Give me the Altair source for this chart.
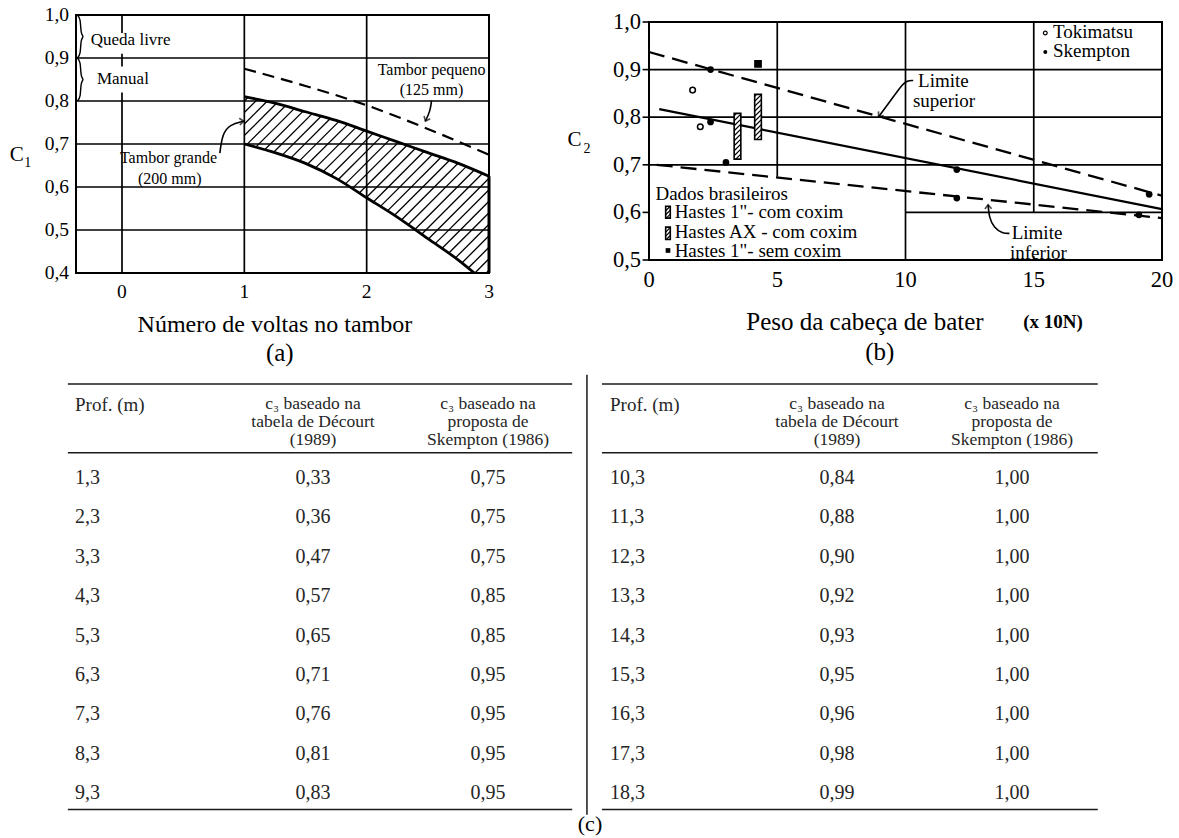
import altair as alt
import numpy as np
import pandas as pd

SERIF = "Liberation Serif"

# ============ (a) C1 against number of turns on the drum ============
big_turns = [1.0, 1.25, 1.5, 1.75, 2.0, 2.25, 2.5, 2.75, 3.0]
big_upper = [0.81, 0.795, 0.775, 0.755, 0.73, 0.705, 0.68, 0.655, 0.625]
low_turns = [1.0, 1.25, 1.5, 1.75, 2.0, 2.25, 2.5, 2.75, 2.88]
big_lower = [0.70, 0.68, 0.655, 0.62, 0.575, 0.53, 0.48, 0.43, 0.40]
small_turns = [1.0, 1.5, 2.0, 2.5, 3.0]
small_drum = [0.875, 0.835, 0.79, 0.735, 0.675]
a_xticks = [0, 1, 2, 3]
a_yticks = [0.4, 0.5, 0.6, 0.7, 0.8, 0.9, 1.0]

# ============ (b) C2 against hammer head weight ============
b_xticks = [0, 5, 10, 15, 20]
b_yticks = [0.5, 0.6, 0.7, 0.8, 0.9, 1.0]
sup_w, sup_c = [0.0, 20.0], [0.937, 0.635]
mid_w, mid_c = [0.4, 20.0], [0.817, 0.607]
inf_w, inf_c = [0.3, 20.0], [0.700, 0.588]
skempton_w = [2.4, 2.4, 3.0, 12.0, 12.0, 19.5, 19.1]
skempton_c = [0.900, 0.790, 0.705, 0.690, 0.630, 0.638, 0.595]
tokimatsu_w = [1.7, 2.0]
tokimatsu_c = [0.857, 0.780]
sem_coxim_w, sem_coxim_c = [4.25], [0.912]
com_coxim_w = [3.45, 4.25]
com_coxim_lo = [0.712, 0.753]
com_coxim_hi = [0.808, 0.848]

# ============ (c) C3 by depth ============
depth = [1.3, 2.3, 3.3, 4.3, 5.3, 6.3, 7.3, 8.3, 9.3,
         10.3, 11.3, 12.3, 13.3, 14.3, 15.3, 16.3, 17.3, 18.3]
c3_decourt = [0.33, 0.36, 0.47, 0.57, 0.65, 0.71, 0.76, 0.81, 0.83,
              0.84, 0.88, 0.90, 0.92, 0.93, 0.95, 0.96, 0.98, 0.99]
c3_skempton = [0.75, 0.75, 0.75, 0.85, 0.85, 0.95, 0.95, 0.95, 0.95,
               1.00, 1.00, 1.00, 1.00, 1.00, 1.00, 1.00, 1.00, 1.00]
headers = ["Prof. (m)",
           "c\u2083 baseado na\ntabela de Décourt\n(1989)",
           "c\u2083 baseado na\nproposta de\nSkempton (1986)"]

# ---------------- scales (each panel placed by its own pixel range) ----------------
A_X, A_Y = [76, 489], [273, 15]
B_X, B_Y = [649, 1162], [260, 22]
A_DOM_X, A_DOM_Y = [-0.376, 3.0], [0.4, 1.0]
B_DOM_X, B_DOM_Y = [0.0, 20.0], [0.5, 1.0]
XA = alt.Scale(domain=A_DOM_X, range=A_X, nice=False, zero=False)
YA = alt.Scale(domain=A_DOM_Y, range=A_Y, nice=False, zero=False)
XB = alt.Scale(domain=B_DOM_X, range=B_X, nice=False, zero=False)
YB = alt.Scale(domain=B_DOM_Y, range=B_Y, nice=False, zero=False)
XT = alt.Scale(domain=[0, 1, 2, 3, 4, 5], range=[75, 313, 488, 610, 837, 1012], nice=False, zero=False)
YT = alt.Scale(domain=[0, 8], range=[478, 793], nice=False, zero=False)

HEAD = "M-1,-0.8L0,0L-1,0.8"


def comma(v, nd):
    return f"{v:.{nd}f}".replace(".", ",")


def X(xs):
    return alt.X("x:Q", scale=xs, axis=None)


def Y(ys):
    return alt.Y("y:Q", scale=ys, axis=None)


def segs(rows, xs, ys, **mark):
    df = pd.DataFrame(rows, columns=["x", "y", "x2", "y2"])
    return alt.Chart(df).mark_rule(color="black", **mark).encode(
        x=X(xs), y=Y(ys), x2="x2:Q", y2="y2:Q")


def curve(xv, yv, xs, ys, **mark):
    df = pd.DataFrame({"x": xv, "y": yv, "k": range(len(xv))})
    return alt.Chart(df).mark_line(color="black", **mark).encode(
        x=X(xs), y=Y(ys), order="k:Q")


def texts(items, xs, ys, **mark):
    df = pd.DataFrame(items, columns=["t", "x", "y"])
    opts = dict(font=SERIF, color="black", baseline="middle")
    opts.update(mark)
    return alt.Chart(df).mark_text(**opts).encode(x=X(xs), y=Y(ys), text="t:N")


def arrow(pts, angle, xs, ys, width=1.6):
    df = pd.DataFrame(pts, columns=["x", "y"])
    df["k"] = range(len(df))
    shaft = alt.Chart(df).mark_line(color="black", strokeWidth=width, interpolate="basis").encode(
        x=X(xs), y=Y(ys), order="k:Q")
    tip = alt.Chart(df.tail(1)).mark_point(
        shape=HEAD, filled=False, color="black", strokeWidth=width, size=70, angle=angle
    ).encode(x=X(xs), y=Y(ys))
    return shaft + tip


def frame(xdom, ydom, xs, ys):
    df = pd.DataFrame({"x": [xdom[0]], "x2": [xdom[1]], "y": [ydom[0]], "y2": [ydom[1]]})
    return alt.Chart(df).mark_rect(filled=False, color="black", strokeWidth=2).encode(
        x=X(xs), x2="x2:Q", y=Y(ys), y2="y2:Q")


def tick_labels(xticks, yticks, xdom, ydom, xs, ys, size, xdy, ydx):
    xl = pd.DataFrame({"x": xticks, "y": ydom[0], "t": [str(v) for v in xticks]})
    yl = pd.DataFrame({"x": xdom[0], "y": yticks, "t": [comma(v, 1) for v in yticks]})
    bottom = alt.Chart(xl).mark_text(font=SERIF, fontSize=size, color="black", align="center",
                                     baseline="middle", dy=xdy).encode(x=X(xs), y=Y(ys), text="t:N")
    left = alt.Chart(yl).mark_text(font=SERIF, fontSize=size, color="black", align="right",
                                   baseline="middle", dx=ydx).encode(x=X(xs), y=Y(ys), text="t:N")
    return bottom + left


def brace(x0, top, bottom, w):
    mid = (top + bottom) / 2
    xv = [x0, x0 + w, x0 + w, x0 + 2 * w, x0 + w, x0 + w, x0]
    yv = [top, top - 0.008, mid + 0.006, mid, mid - 0.006, bottom + 0.008, bottom]
    return xv, yv


# ======================= panel (a) =======================
frame_a = frame(A_DOM_X, A_DOM_Y, XA, YA)
ticks_a = tick_labels(a_xticks, a_yticks, A_DOM_X, A_DOM_Y, XA, YA, 19.5, 19, -7)

grid_a = segs(
    [(A_DOM_X[0], g, A_DOM_X[1], g) for g in [0.5, 0.6, 0.7, 0.8, 0.9]]
    + [(1, 0.4, 1, 1.0), (2, 0.4, 2, 1.0),
       (0, 1.0, 0, 0.958), (0, 0.91, 0, 0.88), (0, 0.82, 0, 0.4)],
    XA, YA, strokeWidth=1.7)

# diagonal hatching of the large-drum band (lines at 45 degrees on screen)
px_x = (A_X[1] - A_X[0]) / (A_DOM_X[1] - A_DOM_X[0])
px_y = (A_Y[0] - A_Y[1]) / (A_DOM_Y[1] - A_DOM_Y[0])
slope = px_x / px_y
xg = np.linspace(1.0, 3.0, 4001)
up_g = np.interp(xg, big_turns, big_upper)
lo_g = np.maximum(np.interp(xg, low_turns, big_lower), 0.4)
hatch = []
for t in np.arange(-0.5, 3.0, 11.5 / px_x):
    yl = 0.4 + slope * (xg - t)
    idx = np.where((yl >= lo_g) & (yl <= up_g))[0]
    if len(idx) > 1:
        hatch.append((xg[idx[0]], yl[idx[0]], xg[idx[-1]], yl[idx[-1]]))
hatch_a = segs(hatch, XA, YA, strokeWidth=1.3)

band_a = (curve(big_turns, big_upper, XA, YA, strokeWidth=2.8, interpolate="monotone")
          + curve(low_turns, big_lower, XA, YA, strokeWidth=2.8, interpolate="monotone")
          + segs([(3.0, 0.4, 3.0, big_upper[-1])], XA, YA, strokeWidth=3))
small_a = curve(small_turns, small_drum, XA, YA, strokeWidth=2.2, strokeDash=[12, 7],
                interpolate="monotone")

bx1, by1 = brace(-0.366, 1.0, 0.9, 0.028)
bx2, by2 = brace(-0.366, 0.9, 0.8, 0.028)
braces_a = (curve(bx1, by1, XA, YA, strokeWidth=1.4, interpolate="basis")
            + curve(bx2, by2, XA, YA, strokeWidth=1.4, interpolate="basis"))

notes_a_left = texts([("Queda livre", -0.255, 0.942), ("Manual", -0.205, 0.852)],
                     XA, YA, align="left", fontSize=17)
notes_a_mid = texts([("Tambor grande", 0.38, 0.668), ("(200 mm)", 0.39, 0.618),
                     ("Tambor pequeno", 2.53, 0.872), ("(125 mm)", 2.53, 0.826)],
                    XA, YA, align="center", fontSize=16)
arrows_a = (arrow([(0.80, 0.679), (0.82, 0.723), (0.88, 0.745), (0.995, 0.753)], 355, XA, YA)
            + arrow([(2.53, 0.801), (2.52, 0.777), (2.48, 0.753)], 115, XA, YA))
label_a = (texts([("C", -0.86, 0.674)], XA, YA, align="center", fontSize=21)
           + texts([("1", -0.77, 0.656)], XA, YA, align="center", fontSize=14)
           + texts([("Número de voltas no tambor", 1.25, 0.279)], XA, YA, align="center", fontSize=24)
           + texts([("(a)", 1.29, 0.214)], XA, YA, align="center", fontSize=25))

panel_a = alt.layer(grid_a, hatch_a, band_a, small_a, braces_a, notes_a_left, notes_a_mid,
                    arrows_a, label_a, ticks_a, frame_a)

# ======================= panel (b) =======================
frame_b = frame(B_DOM_X, B_DOM_Y, XB, YB)
ticks_b = tick_labels(b_xticks, b_yticks, B_DOM_X, B_DOM_Y, XB, YB, 22.5, 20, -8)
tickmarks_b = segs([(-0.25, v, 0.0, v) for v in b_yticks], XB, YB, strokeWidth=1.6)

grid_b = segs(
    [(0, g, 20, g) for g in [0.7, 0.8, 0.9]]
    + [(10, 0.6, 20, 0.6), (5, 0.675, 5, 1.0), (10, 0.5, 10, 1.0),
       (15, 0.6, 15, 1.0), (15, 0.5, 15, 0.508)],
    XB, YB, strokeWidth=1.7)

lines_b = (curve(sup_w, sup_c, XB, YB, strokeWidth=2.3, strokeDash=[16, 8])
           + curve(mid_w, mid_c, XB, YB, strokeWidth=2.2)
           + curve(inf_w, inf_c, XB, YB, strokeWidth=2.3, strokeDash=[16, 8]))

pts_sk = alt.Chart(pd.DataFrame({"x": skempton_w, "y": skempton_c})).mark_point(
    shape="circle", filled=True, color="black", size=45, opacity=1).encode(x=X(XB), y=Y(YB))
pts_tk = alt.Chart(pd.DataFrame({"x": tokimatsu_w, "y": tokimatsu_c})).mark_point(
    shape="circle", filled=False, color="black", strokeWidth=1.5, size=32, opacity=1
).encode(x=X(XB), y=Y(YB))
pts_sq = alt.Chart(pd.DataFrame({"x": sem_coxim_w, "y": sem_coxim_c})).mark_point(
    shape="square", filled=True, color="black", size=60, opacity=1).encode(x=X(XB), y=Y(YB))

bpx_x = (B_X[1] - B_X[0]) / 20.0
bpx_y = (B_Y[0] - B_Y[1]) / 0.5


def hatched_box(xc, lo, hi, half_w, step_px=5.0):
    xl, xr = xc - half_w, xc + half_w
    rise = (xr - xl) * bpx_x / bpx_y
    step = step_px / bpx_y
    out = []
    y = lo - rise
    while y < hi:
        ya, yb, xa, xb = y, y + rise, xl, xr
        if ya < lo:
            xa = xl + (lo - ya) / rise * (xr - xl)
            ya = lo
        if yb > hi:
            xb = xl + (hi - y) / rise * (xr - xl)
            yb = hi
        if xb > xa:
            out.append((xa, ya, xb, yb))
        y += step
    box = pd.DataFrame({"x": [xl], "x2": [xr], "y": [lo], "y2": [hi]})
    outline = alt.Chart(box).mark_rect(fill="white", stroke="black", strokeWidth=1.6).encode(
        x=X(XB), x2="x2:Q", y=Y(YB), y2="y2:Q")
    return outline + segs(out, XB, YB, strokeWidth=1.2)


bars_b = alt.layer(*[hatched_box(w, lo, hi, 0.13)
                     for w, lo, hi in zip(com_coxim_w, com_coxim_lo, com_coxim_hi)])
legend_b = (hatched_box(0.74, 0.588, 0.613, 0.09, 4.0) + hatched_box(0.74, 0.543, 0.569, 0.09, 4.0)
            + alt.Chart(pd.DataFrame({"x": [0.74], "y": [0.52]})).mark_point(
                shape="square", filled=True, color="black", size=22, opacity=1).encode(x=X(XB), y=Y(YB))
            + alt.Chart(pd.DataFrame({"x": [15.45], "y": [0.977]})).mark_point(
                shape="circle", filled=False, color="black", strokeWidth=1.2, size=14, opacity=1
            ).encode(x=X(XB), y=Y(YB))
            + alt.Chart(pd.DataFrame({"x": [15.45], "y": [0.937]})).mark_point(
                shape="circle", filled=True, color="black", size=16, opacity=1).encode(x=X(XB), y=Y(YB)))

notes_b = texts([("Tokimatsu", 15.75, 0.979), ("Skempton", 15.75, 0.940),
                 ("Limite", 10.49, 0.877), ("superior", 10.29, 0.835),
                 ("Limite", 14.14, 0.556), ("inferior", 14.07, 0.514),
                 ("Dados brasileiros", 0.25, 0.639),
                 ("Hastes 1\"- com coxim", 1.0, 0.601),
                 ("Hastes AX - com coxim", 1.0, 0.558),
                 ("Hastes 1\"- sem coxim", 1.0, 0.519)],
                XB, YB, align="left", fontSize=19)
arrows_b = (arrow([(10.3, 0.877), (10.05, 0.877), (9.8, 0.864), (9.4, 0.833), (8.95, 0.801)],
                  128, XB, YB)
            + arrow([(14.05, 0.556), (13.78, 0.556), (13.45, 0.568), (13.26, 0.589), (13.22, 0.616)],
                    268, XB, YB))
label_b = (texts([("C", -2.9, 0.752)], XB, YB, align="center", fontSize=21)
           + texts([("2", -2.42, 0.733)], XB, YB, align="center", fontSize=14)
           + texts([("Peso da cabeça de bater", 8.42, 0.370)], XB, YB, align="center", fontSize=25)
           + texts([("(x 10N)", 15.75, 0.370)], XB, YB, align="center", fontSize=19, fontWeight="bold")
           + texts([("(b)", 9.0, 0.307)], XB, YB, align="center", fontSize=25))

panel_b = alt.layer(grid_b, lines_b, bars_b, pts_sk, pts_tk, pts_sq, legend_b, notes_b,
                    arrows_b, label_b, ticks_b, tickmarks_b, frame_b)

# ======================= table (c) =======================
cells = []
for i in range(len(depth)):
    side, r = divmod(i, 9)
    cells.append((3 * side, r, comma(depth[i], 1)))
    cells.append((3 * side + 1, r, comma(c3_decourt[i], 2)))
    cells.append((3 * side + 2, r, comma(c3_skempton[i], 2)))
cells = pd.DataFrame(cells, columns=["col", "row", "t"])
TX = alt.X("col:Q", scale=XT, axis=None)
TY = alt.Y("row:Q", scale=YT, axis=None)
TCOL = "#262626"

first_col = alt.Chart(cells[cells["col"] % 3 == 0]).mark_text(
    font=SERIF, fontSize=20, color=TCOL, align="left", baseline="middle"
).encode(x=TX, y=TY, text="t:N")
value_cols = alt.Chart(cells[cells["col"] % 3 != 0]).mark_text(
    font=SERIF, fontSize=20, color=TCOL, align="center", baseline="middle"
).encode(x=TX, y=TY, text="t:N")

# header row: the first text line of every header cell sits on the same row
head = pd.DataFrame([(3 * s + c, headers[c]) for s in range(2) for c in range(3)],
                    columns=["col", "t"])
head_first = alt.Chart(head[head["col"] % 3 == 0].assign(row=-1.86)).mark_text(
    font=SERIF, fontSize=19, color=TCOL, align="left", baseline="middle"
).encode(x=TX, y=TY, text="t:N")
head_rest = alt.Chart(head[head["col"] % 3 != 0].assign(row=-1.87)).mark_text(
    font=SERIF, fontSize=17.5, color=TCOL, align="center", baseline="middle",
    lineBreak="\n", lineHeight=18
).encode(x=TX, y=TY, text="t:N")

t_rules = pd.DataFrame(
    [(-0.03, -2.39, 2.69, -2.39), (-0.03, -0.64, 2.69, -0.64), (-0.03, 8.42, 2.69, 8.42),
     (2.934, -2.39, 5.49, -2.39), (2.934, -0.64, 5.49, -0.64), (2.934, 8.42, 5.49, 8.42),
     (2.811, -2.62, 2.811, 8.55)],
    columns=["col", "row", "col2", "row2"])
table_rules = alt.Chart(t_rules).mark_rule(color="#1a1a1a", strokeWidth=1.5).encode(
    x=TX, y=TY, x2="col2:Q", y2="row2:Q")
label_c = alt.Chart(pd.DataFrame({"col": [2.836], "row": [8.78], "t": ["(c)"]})).mark_text(
    font=SERIF, fontSize=22, color="black", align="center", baseline="middle"
).encode(x=TX, y=TY, text="t:N")

table = alt.layer(table_rules, first_col, value_cols, head_first, head_rest, label_c)

chart = (
    alt.layer(panel_a, panel_b, table)
    .resolve_scale(x="independent", y="independent")
    .properties(width=1179, height=838, padding=0,
                autosize=alt.AutoSizeParams(type="none"), background="white")
    .configure_view(strokeWidth=0)
)

chart.save("out.html", embed_options={"renderer": "svg", "actions": False})
